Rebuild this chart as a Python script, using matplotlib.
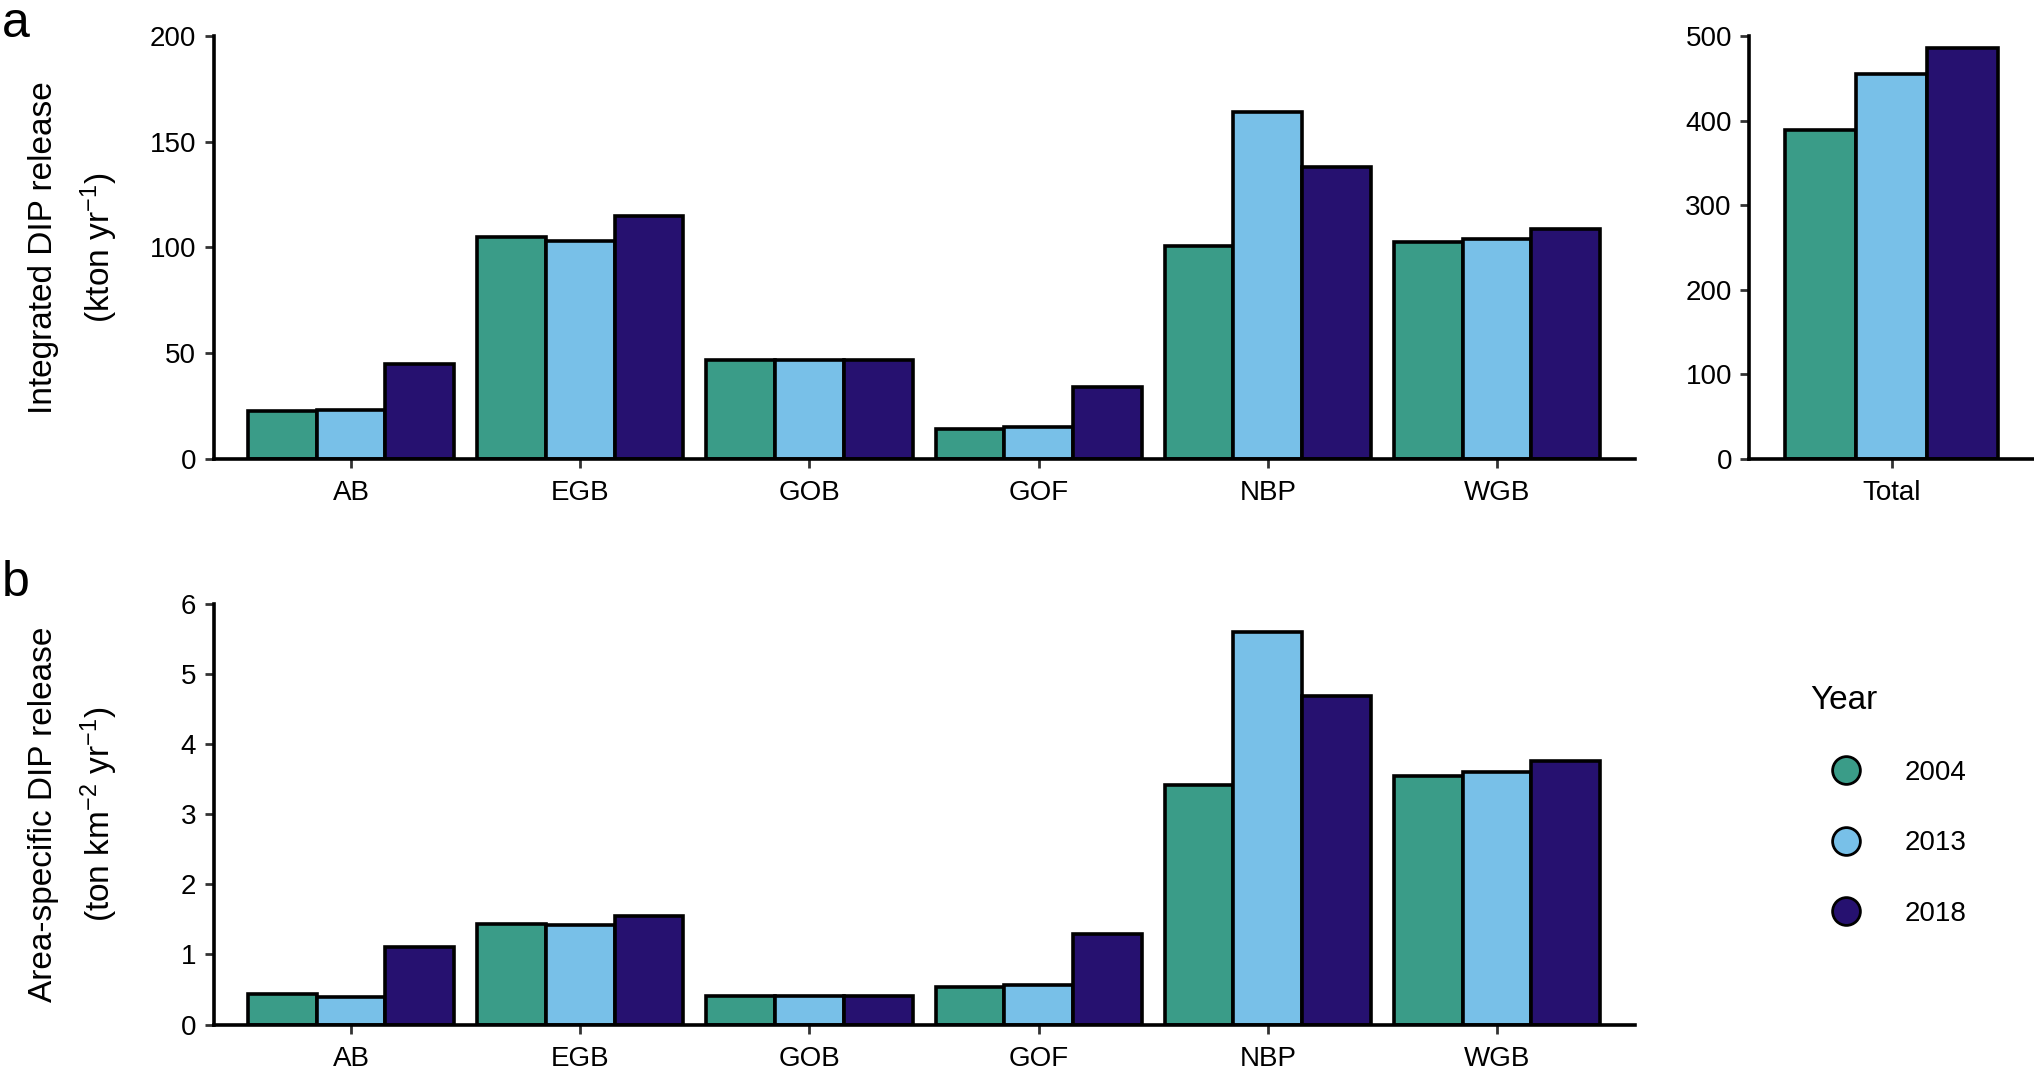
import numpy as np
import matplotlib.pyplot as plt
from matplotlib.lines import Line2D

plt.rcParams['font.family'] = ['Liberation Sans', 'DejaVu Sans']
plt.rcParams['mathtext.fontset'] = 'custom'
plt.rcParams['mathtext.rm'] = 'Liberation Sans'
plt.rcParams['mathtext.it'] = 'Liberation Sans:italic'
plt.rcParams['mathtext.default'] = 'regular'

# data
basins = ['AB', 'EGB', 'GOB', 'GOF', 'NBP', 'WGB']
years = ['2004', '2013', '2018']
colors = ['#3a9c88', '#78c0e8', '#261170']

integrated_2004 = [22.7, 105.0, 46.6, 14.0, 100.6, 102.5]
integrated_2013 = [23.0, 103.0, 46.6, 15.0, 164.4, 104.0]
integrated_2018 = [44.8, 114.7, 46.6, 33.7, 138.0, 108.6]

total_2004 = [389.6]
total_2013 = [455.0]
total_2018 = [486.0]

area_2004 = [0.43, 1.44, 0.41, 0.54, 3.41, 3.54]
area_2013 = [0.39, 1.42, 0.41, 0.57, 5.60, 3.60]
area_2018 = [1.11, 1.55, 0.41, 1.29, 4.69, 3.76]

fig = plt.figure(figsize=(20.34, 10.70), dpi=100)

LW = 2.6
W = 0.3


def style(ax, ymax, yticks):
    for s in ['top', 'right']:
        ax.spines[s].set_visible(False)
    for s in ['left', 'bottom']:
        ax.spines[s].set_linewidth(LW)
    ax.set_ylim(0, ymax)
    ax.set_yticks(yticks)
    ax.tick_params(axis='both', length=6.5, width=2, color='#333333',
                   labelsize=20, labelcolor='black')
    ax.tick_params(axis='x', pad=9)
    ax.tick_params(axis='y', pad=6)


def bars(ax, cats, series):
    x = np.arange(len(cats))
    for i, vals in enumerate(series):
        ax.bar(x + (i - 1) * W, vals, width=W, color=colors[i],
               edgecolor='black', linewidth=LW, zorder=2)
    ax.set_xticks(x)
    ax.set_xticklabels(cats)
    ax.set_xlim(-0.6, len(cats) - 0.4)


# panel a, basins
ax1 = fig.add_axes([0.105, 0.5714, 0.6986, 0.3946])
bars(ax1, basins, [integrated_2004, integrated_2013, integrated_2018])
style(ax1, 200, [0, 50, 100, 150, 200])
ax1.set_ylabel('Integrated DIP release\n(kton yr$^{-1}$)', fontsize=24,
               linespacing=1.6)
ax1.yaxis.set_label_coords(-0.066, 0.5)

# panel a, total
ax2 = fig.add_axes([0.860, 0.5714, 0.140, 0.3946])
bars(ax2, ['Total'], [total_2004, total_2013, total_2018])
style(ax2, 500, [0, 100, 200, 300, 400, 500])

# panel b
ax3 = fig.add_axes([0.105, 0.0424, 0.6986, 0.3934])
bars(ax3, basins, [area_2004, area_2013, area_2018])
style(ax3, 6, [0, 1, 2, 3, 4, 5, 6])
ax3.set_ylabel('Area-specific DIP release\n(ton km$^{-2}$ yr$^{-1}$)', fontsize=24,
               linespacing=1.6)
ax3.yaxis.set_label_coords(-0.066, 0.5)

fig.text(0.001, 0.978, 'a', fontsize=36, va='center', ha='left')
fig.text(0.001, 0.455, 'b', fontsize=36, va='center', ha='left')

handles = [Line2D([], [], marker='o', linestyle='none', markersize=20,
                  markerfacecolor=c, markeredgecolor='black', markeredgewidth=2)
           for c in colors]
leg = fig.legend(handles, years, title='Year', loc='center left',
                 bbox_to_anchor=(0.8775, 0.247), frameon=False, fontsize=20,
                 title_fontsize=24, labelspacing=1.6, handlelength=2.6,
                 handletextpad=0.8, alignment='left')

fig.savefig('out.png', dpi=100)
